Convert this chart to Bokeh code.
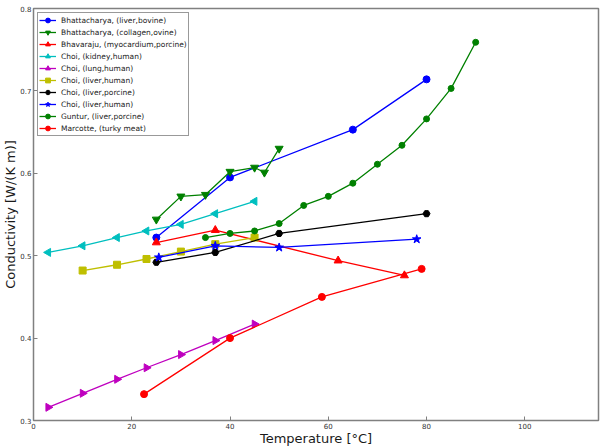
import math
from bokeh.plotting import figure
from bokeh.models import Range1d, FixedTicker, Title, Legend, LegendItem
from bokeh.embed import file_html
from bokeh.resources import INLINE

# ---- data ----
bh_liver_x = [25, 40, 65, 80]
bh_liver_y = [0.522, 0.595, 0.653, 0.714]

bh_coll_x = [25, 30, 35, 40, 45, 47, 50]
bh_coll_y = [0.544, 0.572, 0.574, 0.602, 0.607, 0.601, 0.630]

bhav_x = [25, 37, 62, 75.5]
bhav_y = [0.516, 0.531, 0.494, 0.476]

choi_kid_x = [3, 10, 17, 23, 30, 37, 45]
choi_kid_y = [0.504, 0.512, 0.522, 0.530, 0.538, 0.551, 0.566]

choi_lung_x = [3, 10, 17, 23, 30, 37, 45]
choi_lung_y = [0.316, 0.333, 0.350, 0.364, 0.380, 0.397, 0.417]

choi_livh_x = [10, 17, 23, 30, 37, 45]
choi_livh_y = [0.482, 0.489, 0.496, 0.505, 0.514, 0.522]

choi_livp_x = [25, 37, 50, 80]
choi_livp_y = [0.492, 0.504, 0.527, 0.551]

choi_livh2_x = [25.5, 37, 50, 78]
choi_livh2_y = [0.498, 0.512, 0.510, 0.520]

guntur_x = [35, 40, 45, 50, 55, 60, 65, 70, 75, 80, 85, 90]
guntur_y = [0.522, 0.527, 0.530, 0.539, 0.561, 0.572, 0.588, 0.611, 0.634, 0.666, 0.703, 0.759]

marcotte_x = [22.5, 40, 58.7, 79]
marcotte_y = [0.332, 0.400, 0.450, 0.484]

labels = [
    "Bhattacharya, (liver,bovine)",
    "Bhattacharya, (collagen,ovine)",
    "Bhavaraju, (myocardium,porcine)",
    "Choi, (kidney,human)",
    "Choi, (lung,human)",
    "Choi, (liver,human)",
    "Choi, (liver,porcine)",
    "Choi, (liver,human)",
    "Guntur, (liver,porcine)",
    "Marcotte, (turky meat)",
]

x_ticks = [0, 20, 40, 60, 80, 100]
y_ticks = [0.3, 0.4, 0.5, 0.6, 0.7, 0.8]
x_title = "Temperature [°C]"
y_title = "Conductivity [W/(K m)]"

series = [
    (bh_liver_x, bh_liver_y, "#0000FF", "circle", 0.0, 7),
    (bh_coll_x, bh_coll_y, "#008000", "inverted_triangle", 0.0, 8),
    (bhav_x, bhav_y, "#FF0000", "triangle", 0.0, 8),
    (choi_kid_x, choi_kid_y, "#00BFBF", "triangle", math.pi / 2, 8),
    (choi_lung_x, choi_lung_y, "#BF00BF", "triangle", -math.pi / 2, 8),
    (choi_livh_x, choi_livh_y, "#BFBF00", "square", 0.0, 7),
    (choi_livp_x, choi_livp_y, "#000000", "hex", 0.0, 7),
    (choi_livh2_x, choi_livh2_y, "#0000FF", "star", 0.0, 9),
    (guntur_x, guntur_y, "#008000", "circle", 0.0, 6),
    (marcotte_x, marcotte_y, "#FF0000", "circle", 0.0, 7),
]

FONT = "DejaVu Sans"
FRAME = "#808080"

p = figure(width=601, height=447, output_backend="svg", toolbar_location=None,
           x_range=Range1d(0, 115), y_range=Range1d(0.3, 0.8),
           min_border_left=33, min_border_right=3, min_border_top=8, min_border_bottom=27)

items = []
for (xs, ys, col, mk, ang, sz), lab in zip(series, labels):
    r1 = p.line(xs, ys, line_color=col, line_width=1.3)
    r2 = p.scatter(xs, ys, marker=mk, angle=ang, size=sz, fill_color=col, line_color=col)
    items.append(LegendItem(label=lab, renderers=[r1, r2]))

p.xgrid.visible = False
p.ygrid.visible = False
p.outline_line_color = FRAME
p.outline_line_width = 1.5

p.xaxis.ticker = FixedTicker(ticks=x_ticks)
p.yaxis.ticker = FixedTicker(ticks=y_ticks)
p.yaxis.major_label_overrides = {t: f"{t:.1f}" for t in y_ticks}

for ax in (p.xaxis[0], p.yaxis[0]):
    ax.axis_line_color = None
    ax.major_tick_in = 4
    ax.major_tick_out = 0
    ax.major_tick_line_color = FRAME
    ax.minor_tick_line_color = None
    ax.major_label_text_font = FONT
    ax.major_label_text_font_size = "7px"
    ax.major_label_text_color = "#333333"
    ax.major_label_standoff = 2

# axis titles as Title annotations in the side panels
p.add_layout(Title(text=x_title, align="center", standoff=-5, offset=-8,
                   text_font=FONT, text_font_size="13px", text_font_style="normal",
                   text_color="#1a1a1a"), "below")
p.add_layout(Title(text=y_title, align="center", standoff=0,
                   text_font=FONT, text_font_size="13px", text_font_style="normal",
                   text_color="#1a1a1a"), "left")

lg = Legend(items=items, location="top_left")
lg.margin = 4
lg.padding = 1
lg.spacing = 0
lg.glyph_width = 17
lg.glyph_height = 12
lg.label_height = 10
lg.label_standoff = 5
lg.label_text_font = FONT
lg.label_text_font_size = "7.5px"
lg.label_text_color = "#1a1a1a"
lg.border_line_color = "#333333"
lg.border_line_width = 1
lg.background_fill_alpha = 1.0
p.add_layout(lg, "center")

open("out.html", "w").write(file_html(p, INLINE))
